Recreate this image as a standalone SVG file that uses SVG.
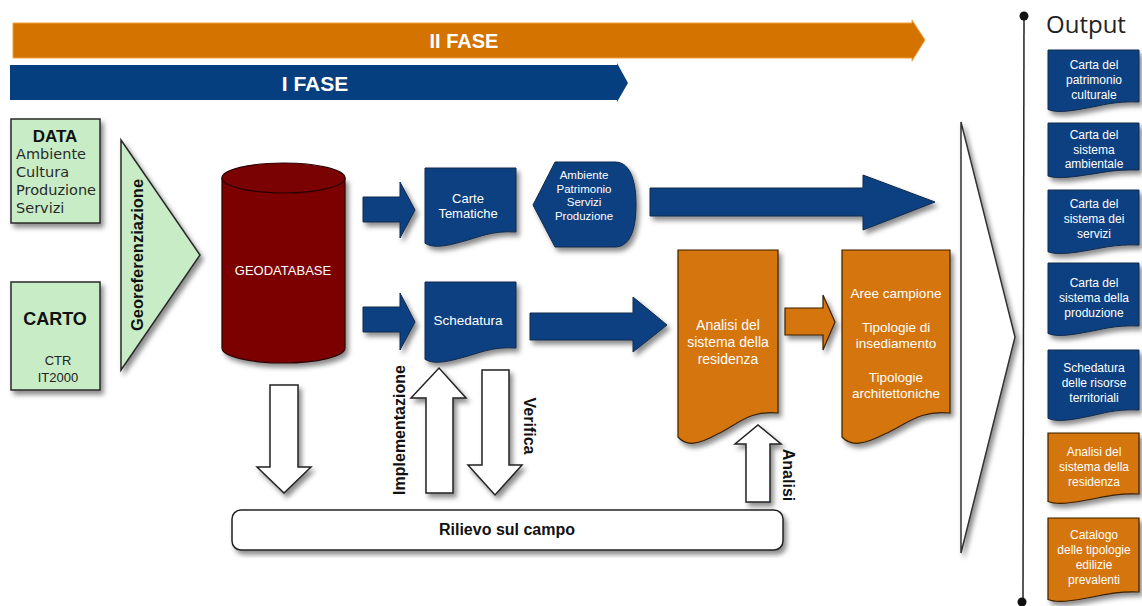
<svg xmlns="http://www.w3.org/2000/svg" width="1142" height="606" viewBox="0 0 1142 606">
<defs>
<filter id="sh" x="-20%" y="-20%" width="140%" height="140%">
<feDropShadow dx="3" dy="4" stdDeviation="2.5" flood-color="#000" flood-opacity="0.45"/>
</filter>
<style>
.blue{fill:#083f80;stroke:#142a4a;stroke-width:1}
.org{fill:#d47508;stroke:#3a2000;stroke-width:1.2}
.grn{fill:#c8edc6;stroke:#2a2a2a;stroke-width:1.5}
.wht{fill:#fff;stroke:#222;stroke-width:1.5}
.t{font-family:"Liberation Sans",Arial,sans-serif}
.wt{font-family:"Liberation Sans",Arial,sans-serif;fill:#fff;text-anchor:middle}
.bk{font-family:"Liberation Sans",Arial,sans-serif;font-weight:bold;fill:#111}
.ob{font-family:"Liberation Sans",Arial,sans-serif;fill:#fff;text-anchor:middle;font-size:12px}
</style>
</defs>
<rect width="1142" height="606" fill="#fff"/>

<g id="phase2">
<polygon points="13,23 912,23 912,20 925,40 912,61 912,58 13,58" fill="#d47300" stroke="#f0a040" stroke-width="1"/>
<text x="464" y="48" class="wt" font-size="20" font-weight="bold">II FASE</text>
</g>
<g id="phase1">
<polygon points="10,65 617,65 617,63 628,83 617,102 617,100 10,100" fill="#063f80"/>
<text x="315" y="91" class="wt" font-size="21" font-weight="bold">I FASE</text>
</g>

<g id="data">
<rect x="11" y="119" width="89" height="104" class="grn" filter="url(#sh)"/>
<text x="55" y="142" class="bk" font-size="17" text-anchor="middle">DATA</text>
<g font-family="DejaVu Sans,sans-serif" font-size="14.5" fill="#2a2a2a">
<text x="16" y="159">Ambiente</text>
<text x="16" y="177">Cultura</text>
<text x="16" y="195">Produzione</text>
<text x="16" y="213">Servizi</text>
</g>
</g>
<g id="carto">
<rect x="11" y="282" width="89" height="108" class="grn" filter="url(#sh)"/>
<text x="55" y="325" class="bk" font-size="18" text-anchor="middle">CARTO</text>
<text x="58" y="365" class="t" font-size="13" fill="#222" text-anchor="middle">CTR</text>
<text x="58" y="382" class="t" font-size="13" fill="#222" text-anchor="middle">IT2000</text>
</g>

<g id="georef">
<polygon points="121,140 200,255 121,370" class="grn" filter="url(#sh)"/>
<text transform="translate(143,255) rotate(-90)" class="bk" font-size="16.5" text-anchor="middle">Georeferenziazione</text>
</g>

<g id="geodatabase">
<path d="M222,178 V348 A61.5,15 0 0 0 345,348 V178 Z" fill="#7b0202" stroke="#2a0000" stroke-width="1.2" filter="url(#sh)"/>
<ellipse cx="283.5" cy="178" rx="61.5" ry="15" fill="#7b0202" stroke="#2a0000" stroke-width="1.2"/>
<text x="283" y="275" class="wt" font-size="13">GEODATABASE</text>
</g>

<g id="carte-tematiche">
<path d="M425,168 H516 V232 C490.5,230.5 479.6,237.3 461.4,241.8 C443.2,247 432.3,247.8 425,243.3 Z" class="blue" filter="url(#sh)"/>
<text x="468" y="203" class="wt" font-size="13">Carte</text>
<text x="468" y="218" class="wt" font-size="13">Tematiche</text>
</g>

<g id="temi">
<path d="M555,162 H615 C632,162 636,185 636,205 C636,225 632,247 615,247 H555 L533,205 Z" class="blue" filter="url(#sh)"/>
<text x="584" y="179" class="wt" font-size="11.5">Ambiente</text>
<text x="584" y="192.5" class="wt" font-size="11.5">Patrimonio</text>
<text x="584" y="206" class="wt" font-size="11.5">Servizi</text>
<text x="584" y="219.5" class="wt" font-size="11.5">Produzione</text>
</g>

<g id="schedatura">
<path d="M425,282 H516 V348 C490.5,346.5 479.6,353.3 461.4,357.8 C443.2,363 432.3,363.8 425,359.3 Z" class="blue" filter="url(#sh)"/>
<text x="468" y="325" class="wt" font-size="13.5">Schedatura</text>
</g>

<g id="analisi-residenza">
<path d="M678,250 H778 V413 C750,409.8 738,424.2 718,433.8 C698,445 686,446.6 678,437 Z" class="org" filter="url(#sh)"/>
<text x="728" y="330" class="wt" font-size="14">Analisi del</text>
<text x="728" y="347" class="wt" font-size="14">sistema della</text>
<text x="728" y="364" class="wt" font-size="14">residenza</text>
</g>

<g id="tipologie">
<path d="M842,250 H950 V413 C919.8,409.8 906.8,424.2 885.2,433.8 C863.6,445 850.6,446.6 842,437 Z" class="org" filter="url(#sh)"/>
<text x="896" y="298" class="wt" font-size="13.5">Aree campione</text>
<text x="896" y="332" class="wt" font-size="13.5">Tipologie di</text>
<text x="896" y="348" class="wt" font-size="13.5">insediamento</text>
<text x="896" y="382" class="wt" font-size="13.5">Tipologie</text>
<text x="896" y="398" class="wt" font-size="13.5">architettoniche</text>
</g>

<g id="rilievo">
<rect x="232" y="510" width="551" height="40" rx="9" class="wht" filter="url(#sh)"/>
<text x="507" y="535" class="bk" font-size="16" text-anchor="middle">Rilievo sul campo</text>
</g>

<g id="output-funnel">
<polygon points="961,122 1015,337 961,553" fill="#fff" stroke="#333" stroke-width="1.5" filter="url(#sh)"/>
</g>

<g id="output-axis">
<line x1="1024" y1="16" x2="1023" y2="602" stroke="#222" stroke-width="1.5"/>
<circle cx="1024" cy="16" r="4.5" fill="#111"/>
<circle cx="1022" cy="602" r="4.5" fill="#111"/>
<text x="1046" y="33" font-family="Open Sans,DejaVu Sans,sans-serif" font-size="24" fill="#222">Output</text>
</g>

<g id="out1">
<path d="M1048,50 H1139 V102 C1113.5,101 1102.6,105.5 1084.4,108.5 C1066.2,112 1055.3,112.5 1048,109.5 Z" class="blue" filter="url(#sh)"/>
<text x="1094" y="69" class="ob">Carta del</text>
<text x="1094" y="84" class="ob">patrimonio</text>
<text x="1094" y="99" class="ob">culturale</text>
</g>
<g id="out2">
<path d="M1048,123 H1139 V170 C1113.5,169.2 1102.6,172.8 1084.4,175.2 C1066.2,178 1055.3,178.4 1048,176 Z" class="blue" filter="url(#sh)"/>
<text x="1094" y="139" class="ob">Carta del</text>
<text x="1094" y="154" class="ob">sistema</text>
<text x="1094" y="168" class="ob">ambientale</text>
</g>
<g id="out3">
<path d="M1048,190 H1139 V245 C1113.5,244.1 1102.6,248.2 1084.4,250.9 C1066.2,254 1055.3,254.5 1048,251.8 Z" class="blue" filter="url(#sh)"/>
<text x="1094" y="208" class="ob">Carta del</text>
<text x="1094" y="223" class="ob">sistema dei</text>
<text x="1094" y="238" class="ob">servizi</text>
</g>
<g id="out4">
<path d="M1048,263 H1139 V326 C1113.5,325 1102.6,329.5 1084.4,332.5 C1066.2,336 1055.3,336.5 1048,333.5 Z" class="blue" filter="url(#sh)"/>
<text x="1094" y="287" class="ob">Carta del</text>
<text x="1094" y="302" class="ob">sistema della</text>
<text x="1094" y="317" class="ob">produzione</text>
</g>
<g id="out5">
<path d="M1048,350 H1139 V410 C1113.5,408.9 1102.6,413.9 1084.4,417.2 C1066.2,421 1055.3,421.6 1048,418.3 Z" class="blue" filter="url(#sh)"/>
<text x="1094" y="372" class="ob">Schedatura</text>
<text x="1094" y="387" class="ob">delle risorse</text>
<text x="1094" y="402" class="ob">territoriali</text>
</g>
<g id="out6">
<path d="M1048,433 H1139 V494 C1113.5,493 1102.6,497.5 1084.4,500.5 C1066.2,504 1055.3,504.5 1048,501.5 Z" class="org" filter="url(#sh)"/>
<text x="1094" y="456" class="ob">Analisi del</text>
<text x="1094" y="471" class="ob">sistema della</text>
<text x="1094" y="486" class="ob">residenza</text>
</g>
<g id="out7">
<path d="M1048,518 H1139 V592 C1113.5,591 1102.6,595.5 1084.4,598.5 C1066.2,602 1055.3,602.5 1048,599.5 Z" class="org" filter="url(#sh)"/>
<text x="1094" y="539" class="ob">Catalogo</text>
<text x="1094" y="554" class="ob">delle tipologie</text>
<text x="1094" y="569" class="ob">edilizie</text>
<text x="1094" y="584" class="ob">prevalenti</text>
</g>

<g id="connectors">
<polygon points="363,197 400,197 400,182 415,210 400,238 400,222 363,222" class="blue" filter="url(#sh)"/>
<polygon points="363,307 400,307 400,293 415,322 400,350 400,332 363,332" class="blue" filter="url(#sh)"/>
<polygon points="650,188 863,188 863,175 935,202 863,230 863,216 650,216" class="blue" filter="url(#sh)"/>
<polygon points="530,313 633,313 633,297 667,325 633,352 633,340 530,340" class="blue" filter="url(#sh)"/>
<polygon points="785,308 823,308 823,295 835,322 823,350 823,335 785,335" class="org" filter="url(#sh)"/>
<polygon points="270,385 298,385 298,467 311,467 284,493 257,467 270,467" class="wht" filter="url(#sh)"/>
<polygon points="426,493 453,493 453,398 466,398 439,368 411,398 426,398" class="wht" filter="url(#sh)"/>
<polygon points="482,370 509,370 509,465 522,465 495,495 468,465 482,465" class="wht" filter="url(#sh)"/>
<polygon points="746,502 770,502 770,444 781,444 758,425 735,444 746,444" class="wht" filter="url(#sh)"/>
<text transform="translate(405,430) rotate(-90)" class="bk" font-size="16" text-anchor="middle">Implementazione</text>
<text transform="translate(524,426) rotate(90)" class="bk" font-size="16" text-anchor="middle">Verifica</text>
<text transform="translate(783,475) rotate(90)" class="bk" font-size="16" text-anchor="middle">Analisi</text>
</g>
</svg>
